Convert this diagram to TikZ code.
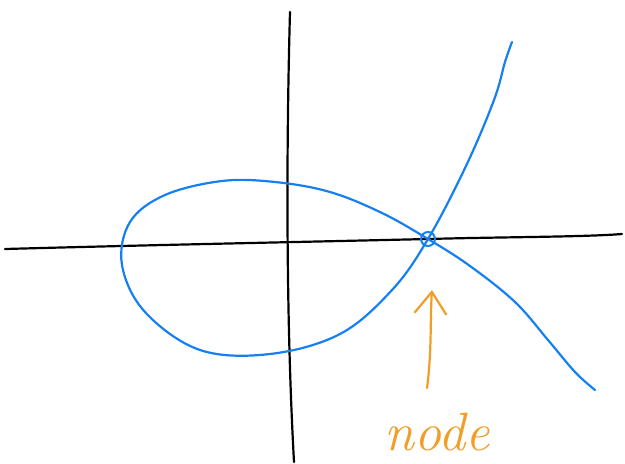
\documentclass[tikz,border=0pt]{standalone}
\usetikzlibrary{arrows.meta}
\definecolor{curveblue}{RGB}{22,128,240}
\definecolor{tagorange}{RGB}{242,158,38}
\tikzset{
  axis/.style={black,line width=2.2pt,line cap=round},
  cubic/.style={curveblue,line width=2.2pt,line cap=round,line join=round},
  tag/.style={tagorange,line width=2.2pt,line cap=round},
}
\begin{document}
\begin{tikzpicture}[x=1pt,y=-1pt]
\useasboundingbox(0,0) rectangle (625,464);
\coordinate (nd) at (428,239);
% axes
\draw[axis] (5,249) .. controls (150,245) and (300,242) .. (nd)
  .. controls (500,237) and (585,237) .. (622,234);
\draw[axis] (290,12) .. controls (287,120) and (285,300) .. (294,462);
% the curve with its loop
\draw[cubic] plot[smooth,tension=.6] coordinates {(512,42) (505,62) (494,100)
  (466,166) (nd) (392,290) (340,334) (270,354) (200,350) (145,312) (122,265)
  (130,222) (165,195) (222,181) (275,182) (330,192) (382,213) (nd) (470,266)
  (515,302) (548,340) (575,372) (595,390)};
\draw[cubic,line width=2pt] (nd) circle (7);
% label
\node[tagorange,font=\fontsize{54}{54}\selectfont\itshape] (lbl) at (437,432) {node};
\draw[tag,-{Straight Barb[length=22pt,width=32pt]}] (427,388)
  .. controls (432,350) and (430,320) .. (432,290);
\end{tikzpicture}
\end{document}
